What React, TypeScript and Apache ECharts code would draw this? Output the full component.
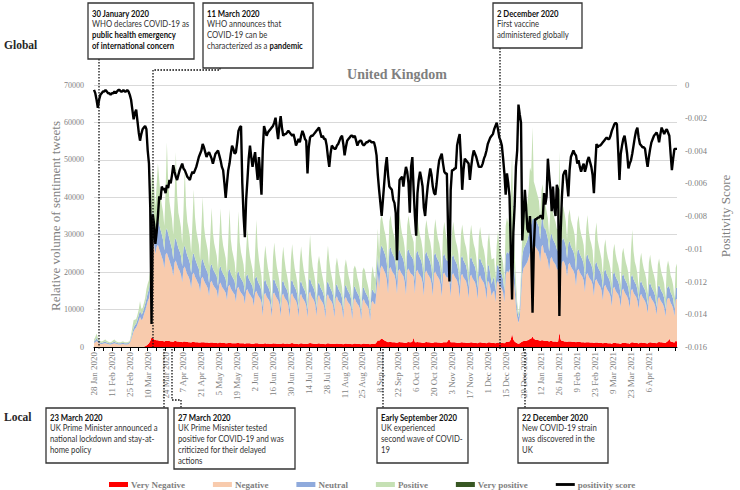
import React, { useEffect, useRef } from "react";
import * as echarts from "echarts";

// ---- data (daily, starting 28 Jan 2020) ----
const START_YEAR = 2020;
const START_MONTH = 0; // January
const START_DAY = 28;
const MONTH_NAMES = ["Jan", "Feb", "Mar", "Apr", "May", "Jun", "Jul", "Aug", "Sep", "Oct", "Nov", "Dec"];

const veryNegative: number[] = [
  0,0,0,0,0,0,0,
  0,0,0,0,0,0,0,
  0,0,0,0,0,0,0,
  0,0,0,0,0,0,0,
  0,0,0,0,0,0,0,
  0,0,0,0,100,200,400,
  700,1000,1600,2600,2400,2000,1900,
  1800,1800,1700,1700,1600,1600,1500,
  1700,1700,1600,1600,1500,1500,1400,
  1600,1600,1500,1500,1400,1400,1300,
  1500,1500,1400,1400,1300,1300,1200,
  1400,1400,1300,1300,1300,1200,1200,
  1300,1300,1300,1200,1200,1200,1100,
  1200,1200,1200,1100,1100,1100,1000,
  1200,1200,1100,1100,1100,1000,1000,
  1100,1100,1100,1000,1000,1000,1000,
  1100,1100,1000,1000,1000,1000,900,
  1000,1000,1000,1000,900,900,900,
  1000,1000,1000,900,900,900,800,
  950,1000,900,950,900,850,800,
  1000,950,950,900,900,850,800,
  950,1000,900,900,950,850,800,
  1000,1050,950,900,900,850,750,
  950,1000,950,900,850,850,800,
  1000,1100,1000,950,900,850,800,
  950,1000,900,900,850,800,750,
  950,1000,950,900,900,850,800,
  900,950,900,850,850,800,750,
  900,950,900,850,850,800,750,
  900,950,900,850,800,800,750,
  900,950,900,850,800,800,750,
  850,850,850,900,1300,1800,1700,
  2000,2300,2100,1800,1600,1500,1300,
  1400,1400,1300,1300,1250,1200,1150,
  1300,1350,1300,1250,1200,1150,1100,
  1300,1350,1300,1250,1500,2500,1300,
  1300,1350,1300,1250,1200,1150,1100,
  1300,1350,1300,1250,1200,1150,1100,
  1300,1300,1250,1200,1200,1150,1100,
  1250,1300,1250,1300,1800,2000,1300,
  1250,1300,1250,1200,1150,1100,1050,
  1250,1300,1200,1200,1150,1100,1050,
  1200,1250,1200,1150,1100,1100,1000,
  1200,1250,1200,1150,1100,1050,1000,
  1200,1250,1200,1150,1100,1050,1000,
  1150,1200,1150,1100,1100,1050,1000,
  1300,1400,1400,1500,2000,3600,2000,
  1500,1200,1000,900,1000,1300,1500,
  1600,1600,1700,1800,1900,2200,2300,
  2800,2200,2000,1900,1900,1800,1700,
  1800,1800,1700,1700,1600,1600,1500,
  1600,1600,1500,1500,1500,1400,1500,
  3900,2000,1600,1600,1500,1500,1400,
  1500,1500,1500,1400,1400,1400,1300,
  1400,1400,1400,1300,1300,1300,1200,
  1300,1300,1300,1200,1200,1200,1100,
  1200,1200,1200,1100,1100,1100,1000,
  1100,1100,1100,1000,1000,1000,900,
  1100,1100,1050,1000,1000,950,900,
  1100,1150,1100,1050,1000,1000,900,
  1200,1250,1200,1100,1100,1050,950,
  1150,1200,1150,1100,1050,1000,950,
  1200,1250,1200,1150,1100,1050,1000,
  1300,1350,1300,1250,1200,1150,1100,
  1400,1600,2200,1500,1400,1300,1200,
  1700,1500,
];

const negative: number[] = [
  1100,1300,1600,1300,1000,900,800,
  900,1000,1000,900,800,700,700,
  800,900,1000,900,800,700,700,
  700,800,800,700,700,700,800,
  1100,2000,3000,4200,4800,5200,6000,
  7000,8000,7200,7500,8500,9500,10500,
  11500,12000,13500,26000,27000,25500,23000,
  25000,25500,24500,23500,22500,21500,19500,
  23000,23500,22500,21500,20500,19500,17500,
  21000,21500,20500,19500,19000,18000,16000,
  19500,20000,19000,18000,17500,16500,14500,
  18000,18500,17500,16800,16000,15500,13500,
  17000,17500,16500,15800,15200,14500,12500,
  16000,16500,15500,15000,14500,14000,12000,
  15500,16000,15000,14500,14000,13500,11500,
  15000,15500,14500,14000,13500,13000,11000,
  14500,15000,14000,13500,13000,12500,10500,
  14000,14500,13500,13000,12500,12000,10000,
  13500,14000,13000,12500,12000,11000,7500,
  13000,13500,12500,12000,11500,10500,7200,
  13200,13600,12700,12100,11600,10600,7400,
  12800,13300,12300,11800,11300,10300,7100,
  12900,13400,12400,11900,11400,10400,7200,
  12700,13200,12200,11700,11200,10200,7000,
  13100,13700,12600,12100,11600,10600,7400,
  12400,12900,11900,11400,10900,10000,6900,
  12600,13100,12100,11600,11100,10200,7000,
  12100,12600,11600,11100,10700,9700,6700,
  12000,12400,11500,11000,10600,9600,6600,
  11700,12100,11200,10700,10300,9400,6500,
  11400,11900,11000,10500,10100,9200,6300,
  11000,11500,10800,10500,14000,18000,14000,
  19000,19500,19000,18500,18000,16500,13000,
  19500,20000,19000,18500,18000,16500,13000,
  19000,19500,18700,18200,17700,16200,12800,
  19200,19600,18800,18300,17800,16300,12900,
  18800,19300,18400,17900,17400,16000,12600,
  18600,19100,18200,17700,17200,15800,12500,
  18400,18900,18000,17500,17000,15600,12300,
  18200,18700,17800,17300,16800,15400,12200,
  18000,18500,17600,17100,16600,15200,12000,
  17800,18300,17400,16900,16400,15000,11900,
  17600,18100,17200,16700,16200,14800,11700,
  17400,17900,17000,16500,16000,14600,11600,
  16500,16000,14500,12500,13500,14000,11000,
  16000,16500,15500,15000,14500,13500,11000,
  18000,19000,18500,19000,19500,19000,16500,
  14000,10000,7000,5500,7000,12000,18000,
  19500,20000,20500,21000,22000,23000,23500,
  24000,24500,25000,24500,24000,23500,21000,
  25000,25500,23500,23500,22500,21500,19000,
  22000,22500,21500,21000,20500,19500,19000,
  20000,18000,21000,21500,21000,20000,17500,
  20500,21000,20000,19500,19000,18000,15000,
  19000,19500,18500,18000,17500,16500,13500,
  18000,18500,17500,17000,16500,15500,12500,
  16500,17000,16000,15500,15000,14000,11500,
  15000,15500,14500,14000,13500,12500,10000,
  14500,15000,14000,13500,13000,12000,9800,
  14000,14500,13500,13000,12500,11500,9500,
  13800,14300,13300,12800,12300,11300,9200,
  12500,13000,12200,11700,11200,10300,8000,
  12000,12500,11700,11200,10700,9800,7500,
  11500,12000,11200,10700,10200,9300,7000,
  11000,11500,10800,10300,9800,9000,7000,
  11000,11300,
];

const neutral: number[] = [
  400,500,800,500,400,300,300,
  300,400,400,300,300,300,300,
  300,400,400,300,300,300,300,
  300,300,300,300,300,300,300,
  300,500,800,1000,1000,1100,1300,
  1500,1800,1500,1600,1700,1800,2000,
  2200,2400,2700,6000,7000,6500,5500,
  6500,6800,6600,6200,6000,5500,4800,
  6200,6500,6200,5800,5500,5200,4500,
  5800,6000,5700,5400,5200,5000,4300,
  5400,5600,5300,5000,4800,4600,4000,
  5000,5200,4900,4600,4400,4200,3700,
  4700,4800,4600,4400,4200,4000,3500,
  4400,4500,4300,4100,4000,3800,3300,
  4300,4400,4200,4000,3900,3700,3200,
  4200,4300,4100,3900,3800,3600,3100,
  4100,4200,4000,3800,3700,3500,3000,
  3900,4000,3800,3600,3500,3300,2800,
  3800,4000,3700,3500,3300,3100,2300,
  3500,3600,3400,3200,3000,2800,2100,
  3550,3650,3450,3250,3050,2850,2150,
  3450,3550,3350,3150,2950,2750,2100,
  3500,3600,3400,3200,3000,2800,2100,
  3400,3500,3300,3100,2900,2700,2050,
  3550,3700,3450,3250,3050,2850,2150,
  3350,3450,3250,3050,2850,2650,2000,
  3400,3500,3300,3100,2900,2700,2050,
  3250,3350,3150,2950,2800,2600,1950,
  3200,3300,3100,2900,2750,2550,1900,
  3150,3250,3050,2850,2700,2500,1850,
  3100,3200,3000,2800,2650,2450,1800,
  3000,3100,2900,2800,3800,4800,4000,
  5200,5400,5200,5000,4800,4400,3500,
  5200,5300,5000,4800,4600,4300,3500,
  5000,5200,4900,4700,4500,4200,3400,
  5050,5200,4950,4750,4550,4250,3450,
  4950,5100,4850,4650,4450,4150,3350,
  4900,5050,4800,4600,4400,4100,3300,
  4850,5000,4750,4550,4350,4050,3250,
  4800,4950,4700,4500,4300,4000,3200,
  4750,4900,4650,4450,4250,3950,3150,
  4700,4850,4600,4400,4200,3900,3100,
  4650,4800,4550,4350,4150,3850,3050,
  4600,4750,4500,4300,4100,3800,3000,
  4500,4300,3800,3200,3500,3700,2900,
  4300,4400,4200,4000,3800,3500,2900,
  5000,5200,5000,5200,5300,5200,4500,
  4000,3000,2000,1500,1800,3200,4800,
  5200,5300,5500,5800,6200,6800,7000,
  7500,7500,7500,7300,7000,6800,6000,
  7000,7200,6500,6500,6200,5800,5000,
  6000,6200,5800,5600,5400,5200,5000,
  5500,5000,5800,6000,5800,5500,4800,
  5600,5800,5500,5300,5100,4800,4200,
  5200,5300,5000,4800,4600,4400,3700,
  4900,5000,4700,4500,4300,4100,3400,
  4500,4600,4300,4100,4000,3800,3100,
  4100,4200,4000,3800,3600,3400,2800,
  3900,4000,3800,3600,3500,3300,2700,
  3800,3900,3700,3500,3400,3200,2600,
  3700,3800,3600,3400,3300,3100,2500,
  3400,3500,3300,3100,3000,2800,2200,
  3300,3400,3200,3000,2900,2700,2100,
  3200,3300,3100,2900,2800,2600,2000,
  3100,3200,3000,2800,2700,2500,2000,
  3000,3000,
];

const positive: number[] = [
  500,800,1200,700,500,400,400,
  400,500,600,400,400,300,300,
  400,500,600,400,300,300,300,
  300,400,400,300,300,300,300,
  300,800,1500,2000,1500,1200,1300,
  1500,2500,1500,1300,1400,1500,2500,
  2500,2500,3000,10000,11000,9000,7000,
  10000,15000,12000,9000,8000,7500,6500,
  11000,23000,14000,10000,9000,8000,6500,
  11000,23000,13000,9500,8500,7500,6000,
  10000,21000,12000,9000,8000,7000,5500,
  9000,17000,11000,8500,7500,6500,5000,
  8500,16500,10000,8000,7000,6000,4500,
  8000,15000,9500,7500,6500,5500,4200,
  8000,15500,9500,7500,6500,5500,4000,
  8000,16000,9000,7000,6000,5000,3800,
  7500,16000,9000,7000,6000,5000,3500,
  7000,12000,8500,6500,5500,4500,3200,
  7000,15000,9000,6500,5000,4000,2800,
  6000,9000,7000,5000,4000,3200,2500,
  6200,9700,7200,5100,4100,3300,2600,
  5900,9000,6900,4900,3900,3100,2500,
  6000,9500,7000,5000,4000,3200,2500,
  5900,9200,6800,4900,3900,3100,2400,
  6300,11500,7500,5200,4200,3300,2600,
  5600,7000,6200,4600,3700,3000,2300,
  5900,9500,6800,4900,3900,3100,2400,
  5400,7000,6100,4500,3600,2900,2300,
  5300,6800,6000,4400,3500,2800,2200,
  5100,5500,5700,4200,3400,2700,2100,
  5000,5200,5500,4100,3300,2700,2100,
  4500,6200,4500,4000,5000,7000,5500,
  7500,8000,7000,6000,5500,5000,4000,
  7500,8500,7000,6000,5500,5000,4000,
  7000,9500,7500,6000,5500,5000,4000,
  7000,9000,7500,6000,5500,5000,4000,
  6800,9200,7300,5900,5400,4900,3900,
  6700,8500,7200,5800,5300,4800,3900,
  6600,9000,7100,5700,5200,4700,3800,
  6500,8500,7000,5600,5100,4600,3800,
  6400,8800,6900,5500,5000,4500,3700,
  6300,8300,6800,5400,4900,4400,3700,
  6200,8500,6700,5300,4800,4300,3600,
  6100,8200,6600,5200,4700,4200,3600,
  6000,9000,7000,6500,5500,5000,3800,
  5800,9000,6500,5200,4800,4300,3500,
  8000,9000,8000,10000,14000,24000,10000,
  6000,3500,2000,1200,1500,3500,6500,
  8000,9000,9500,10000,12000,16000,14000,
  24500,10000,8500,8000,7500,7000,6000,
  8000,9000,7000,6500,6000,5500,4500,
  7500,8500,7000,6500,6000,5500,6000,
  23000,8000,8000,8500,7500,6500,5000,
  7500,8500,7000,6500,6000,5500,4500,
  7500,9000,7000,6000,5500,5000,4000,
  7500,10500,7500,6000,5500,5000,3800,
  8000,10500,7000,6000,5000,4500,3500,
  6500,8000,6000,5000,4500,4000,3200,
  6000,7500,6000,5000,4500,4000,3100,
  6000,7000,6000,5000,4500,4000,3000,
  7000,12000,7500,5500,4800,4200,3000,
  6000,7500,6000,5000,4500,4000,3000,
  6000,7500,6000,5000,4500,4000,3000,
  6000,7000,5800,4800,4300,3800,2900,
  5800,6800,5600,4600,4200,3700,2800,
  5500,6500,
];

const positivityScore: number[] = [
  -0.0003,-0.0005,-0.0009,-0.0014,-0.0009,-0.0006,-0.0005,
  -0.0004,-0.0004,-0.0003,-0.0004,-0.0005,-0.0005,-0.0006,
  -0.0005,-0.0005,-0.0004,-0.0005,-0.0004,-0.0003,-0.0003,
  -0.0004,-0.0004,-0.0003,-0.0004,-0.0004,-0.0003,-0.0004,
  -0.0006,-0.0009,-0.0015,-0.0021,-0.0017,-0.0015,-0.0022,
  -0.0029,-0.0034,-0.0030,-0.0027,-0.0026,-0.0025,-0.0027,
  -0.0040,-0.0048,-0.0075,-0.0146,-0.0079,-0.0085,-0.0097,
  -0.0090,-0.0080,-0.0068,-0.0070,-0.0062,-0.0064,-0.0063,
  -0.0066,-0.0061,-0.0063,-0.0058,-0.0060,-0.0055,-0.0049,
  -0.0053,-0.0056,-0.0058,-0.0055,-0.0052,-0.0050,-0.0048,
  -0.0051,-0.0052,-0.0054,-0.0056,-0.0057,-0.0058,-0.0055,
  -0.0053,-0.0054,-0.0052,-0.0050,-0.0047,-0.0044,-0.0042,
  -0.0040,-0.0036,-0.0038,-0.0041,-0.0044,-0.0042,-0.0041,
  -0.0043,-0.0045,-0.0048,-0.0045,-0.0042,-0.0041,-0.0040,
  -0.0043,-0.0046,-0.0050,-0.0052,-0.0060,-0.0069,-0.0060,
  -0.0052,-0.0048,-0.0042,-0.0037,-0.0039,-0.0042,-0.0041,
  -0.0035,-0.0028,-0.0026,-0.0025,-0.0060,-0.0080,-0.0093,
  -0.0070,-0.0058,-0.0045,-0.0037,-0.0044,-0.0050,-0.0045,
  -0.0041,-0.0050,-0.0058,-0.0044,-0.0055,-0.0067,-0.0040,
  -0.0025,-0.0028,-0.0031,-0.0029,-0.0028,-0.0027,-0.0026,
  -0.0025,-0.0023,-0.0020,-0.0027,-0.0033,-0.0025,-0.0019,
  -0.0026,-0.0031,-0.0030,-0.0030,-0.0029,-0.0028,-0.0029,
  -0.0030,-0.0031,-0.0030,-0.0033,-0.0037,-0.0035,-0.0033,
  -0.0035,-0.0031,-0.0028,-0.0030,-0.0033,-0.0034,-0.0054,
  -0.0038,-0.0032,-0.0031,-0.0031,-0.0030,-0.0029,-0.0028,
  -0.0027,-0.0026,-0.0029,-0.0032,-0.0031,-0.0033,-0.0033,
  -0.0037,-0.0044,-0.0050,-0.0042,-0.0037,-0.0038,-0.0039,
  -0.0039,-0.0037,-0.0036,-0.0034,-0.0032,-0.0031,-0.0036,
  -0.0043,-0.0038,-0.0034,-0.0033,-0.0032,-0.0031,-0.0031,
  -0.0032,-0.0031,-0.0034,-0.0037,-0.0035,-0.0034,-0.0034,
  -0.0036,-0.0037,-0.0036,-0.0035,-0.0035,-0.0034,-0.0034,
  -0.0035,-0.0035,-0.0035,-0.0038,-0.0043,-0.0055,-0.0064,
  -0.0072,-0.0080,-0.0070,-0.0060,-0.0050,-0.0044,-0.0055,
  -0.0062,-0.0063,-0.0064,-0.0070,-0.0072,-0.0078,-0.0107,
  -0.0075,-0.0058,-0.0057,-0.0056,-0.0062,-0.0055,-0.0050,
  -0.0053,-0.0060,-0.0078,-0.0050,-0.0044,-0.0064,-0.0080,
  -0.0092,-0.0066,-0.0058,-0.0053,-0.0057,-0.0062,-0.0075,
  -0.0080,-0.0070,-0.0062,-0.0056,-0.0051,-0.0055,-0.0062,
  -0.0066,-0.0067,-0.0060,-0.0052,-0.0046,-0.0044,-0.0042,
  -0.0048,-0.0053,-0.0054,-0.0054,-0.0090,-0.0120,-0.0064,
  -0.0052,-0.0052,-0.0051,-0.0051,-0.0037,-0.0033,-0.0030,
  -0.0045,-0.0064,-0.0052,-0.0045,-0.0046,-0.0047,-0.0048,
  -0.0058,-0.0050,-0.0044,-0.0040,-0.0042,-0.0044,-0.0047,
  -0.0050,-0.0050,-0.0050,-0.0048,-0.0045,-0.0043,-0.0040,
  -0.0036,-0.0034,-0.0032,-0.0031,-0.0030,-0.0027,-0.0025,
  -0.0023,-0.0027,-0.0032,-0.0034,-0.0037,-0.0045,-0.0054,
  -0.0067,-0.0054,-0.0060,-0.0068,-0.0100,-0.0131,-0.0090,
  -0.0074,-0.0050,-0.0040,-0.0012,-0.0018,-0.0023,-0.0095,
  -0.0080,-0.0064,-0.0075,-0.0088,-0.0090,-0.0080,-0.0100,
  -0.0139,-0.0100,-0.0082,-0.0082,-0.0081,-0.0081,-0.0080,
  -0.0080,-0.0082,-0.0066,-0.0073,-0.0068,-0.0045,-0.0055,
  -0.0064,-0.0077,-0.0062,-0.0075,-0.0080,-0.0061,-0.0064,
  -0.0141,-0.0090,-0.0068,-0.0055,-0.0053,-0.0052,-0.0060,
  -0.0068,-0.0052,-0.0044,-0.0042,-0.0040,-0.0042,-0.0043,
  -0.0048,-0.0046,-0.0050,-0.0053,-0.0050,-0.0048,-0.0053,
  -0.0050,-0.0046,-0.0044,-0.0047,-0.0050,-0.0055,-0.0066,
  -0.0050,-0.0036,-0.0038,-0.0037,-0.0037,-0.0036,-0.0035,
  -0.0034,-0.0033,-0.0032,-0.0033,-0.0033,-0.0031,-0.0028,
  -0.0026,-0.0024,-0.0023,-0.0024,-0.0040,-0.0058,-0.0042,
  -0.0037,-0.0033,-0.0031,-0.0036,-0.0042,-0.0051,-0.0048,
  -0.0046,-0.0042,-0.0037,-0.0032,-0.0028,-0.0026,-0.0032,
  -0.0036,-0.0037,-0.0038,-0.0038,-0.0039,-0.0045,-0.0050,
  -0.0044,-0.0039,-0.0035,-0.0033,-0.0031,-0.0030,-0.0029,
  -0.0031,-0.0035,-0.0030,-0.0026,-0.0028,-0.0030,-0.0028,
  -0.0027,-0.0029,-0.0031,-0.0042,-0.0052,-0.0045,-0.0039,
  -0.0039,-0.0039,
];

const veryPositive: number[] = [];

const leftTicks = { min: 0, max: 70000, interval: 10000 };
const rightTicks = { min: -0.016, max: 0, interval: 0.002 };

const legendNames = ["Very Negative", "Negative", "Neutral", "Positive", "Very positive", "positivity score"];

// Category labels: one per day from the start date
const dateCategories: string[] = veryNegative.map((_, i) => {
  const d = new Date(Date.UTC(START_YEAR, START_MONTH, START_DAY + i));
  return `${d.getUTCDate()} ${MONTH_NAMES[d.getUTCMonth()]} ${d.getUTCFullYear()}`;
});

const SERIF = '"Liberation Serif", "Times New Roman", serif';
const SANS = 'Lato, "Open Sans", sans-serif';
const GRAY = "#7f7f7f";

function areaSeries(name: string, data: number[], color: string) {
  return {
    name,
    type: "line",
    stack: "sentiment",
    data,
    symbol: "none",
    showSymbol: false,
    lineStyle: { width: 0, color },
    itemStyle: { color },
    areaStyle: { color, opacity: 1 },
    emphasis: { disabled: true },
    z: 2,
  };
}

const ANN_FONT = `9px ${SANS}`;
const ANN_BOLD = `bold 9px ${SANS}`;
const LH = 10.8;
const ANN_SCALE_X = 0.86;

function box(x: number, y: number, w: number, h: number) {
  return {
    type: "rect",
    z: 100,
    shape: { x, y, width: w, height: h },
    style: { fill: "#ffffff", stroke: "#333333", lineWidth: 1.3 },
  };
}

function annText(x: number, y: number, text: string) {
  return {
    type: "text",
    z: 101,
    x,
    y,
    scaleX: ANN_SCALE_X,
    style: {
      text,
      font: ANN_FONT,
      fill: "#333333",
      lineHeight: LH,
      align: "left",
      verticalAlign: "top",
      rich: {
        b: { font: ANN_BOLD, fill: "#111111", lineHeight: LH },
      },
    },
  };
}

function dotted(points: number[][]) {
  return {
    type: "polyline",
    z: 99,
    shape: { points },
    style: { stroke: "#111111", lineWidth: 1.3, lineDash: [1.6, 1.4], fill: null },
  };
}

const graphics = [
  { type: "text", x: 4, y: 45, style: { text: "Global", font: `bold 11.5px ${SERIF}`, fill: "#262626", verticalAlign: "middle" } },
  { type: "text", x: 4, y: 417, style: { text: "Local", font: `bold 11.5px ${SERIF}`, fill: "#262626", verticalAlign: "middle" } },
  { type: "text", x: 397, y: 74, style: { text: "United Kingdom", font: `bold 14px ${SERIF}`, fill: GRAY, align: "center", verticalAlign: "middle" } },

  dotted([[99, 59], [99, 349]]),
  dotted([[220, 68], [220, 70], [153, 70], [153, 349]]),
  dotted([[500, 48], [500, 349]]),
  dotted([[164, 349], [164, 408]]),
  dotted([[172, 349], [172, 400], [181, 400], [181, 408]]),
  dotted([[383, 349], [383, 408]]),
  dotted([[525, 349], [525, 408]]),

  box(88, 3, 106, 56),
  annText(92, 8, "{b|30 January 2020}\nWHO declares COVID-19 as\n{b|public health emergency}\n{b|of international concern}"),
  box(203, 3, 110, 65),
  annText(207, 8, "{b|11 March 2020}\nWHO announces that\nCOVID-19 can be\ncharacterized as a {b|pandemic}"),
  box(493, 3, 89, 45),
  annText(497, 8, "{b|2 December 2020}\nFirst vaccine\nadministered globally"),

  box(46, 408, 122, 55),
  annText(50, 412, "{b|23 March 2020}\nUK Prime Minister announced a\nnational lockdown and stay-at-\nhome policy"),
  box(174, 408, 121, 61),
  annText(178, 412, "{b|27 March 2020}\nUK Prime Misnister tested\npositive for COVID-19 and was\ncriticized for their delayed\nactions"),
  box(377, 408, 91, 55),
  annText(381, 412, "{b|Early September 2020}\nUK experienced\nsecond wave of COVID-\n19"),
  box(518, 408, 90, 55),
  annText(522, 412, "{b|22 December 2020}\nNew COVID-19 strain\nwas discovered in the\nUK"),
];

const option = {
  animation: false,
  backgroundColor: "#ffffff",
  grid: { left: 94, right: 48, top: 85, bottom: 143, containLabel: false },
  legend: {
    left: 104,
    top: 475,
    itemWidth: 19,
    itemHeight: 5,
    itemGap: 28,
    selectedMode: false,
    textStyle: { fontFamily: SERIF, fontSize: 9, fontWeight: "bold", color: GRAY, padding: [0, 0, 0, -2] },
    data: [
      { name: legendNames[0], icon: "rect" },
      { name: legendNames[1], icon: "rect" },
      { name: legendNames[2], icon: "rect" },
      { name: legendNames[3], icon: "rect" },
      { name: legendNames[4], icon: "rect" },
      { name: legendNames[5], icon: "path://M0 0H20V3H0Z" },
    ],
  },
  xAxis: {
    type: "category",
    data: dateCategories,
    boundaryGap: false,
    axisLine: { lineStyle: { color: "#000000", width: 1 } },
    axisTick: { interval: 6, length: 4, lineStyle: { color: "#000000" } },
    axisLabel: { interval: 13, rotate: 90, fontFamily: SERIF, fontSize: 9, color: GRAY, margin: 5, showMaxLabel: false },
    splitLine: { show: false },
  },
  yAxis: [
    {
      type: "value",
      min: leftTicks.min,
      max: leftTicks.max,
      interval: leftTicks.interval,
      name: "Relative volume of sentiment tweets",
      nameLocation: "middle",
      nameRotate: 90,
      nameGap: 32,
      nameMoveOverlap: false,
      nameTextStyle: { fontFamily: SERIF, fontSize: 13, color: GRAY },
      axisLine: { show: false },
      axisTick: { show: false },
      axisLabel: { fontFamily: SERIF, fontSize: 8, color: GRAY, margin: 10, formatter: (v: number) => String(v) },
      splitLine: { lineStyle: { color: "#d9d9d9", width: 1 } },
    },
    {
      type: "value",
      position: "right",
      min: rightTicks.min,
      max: rightTicks.max,
      interval: rightTicks.interval,
      name: "Positivity Score",
      nameLocation: "middle",
      nameRotate: 90,
      nameGap: 42,
      nameMoveOverlap: false,
      nameTextStyle: { fontFamily: SERIF, fontSize: 13, color: GRAY },
      axisLine: { show: false },
      axisTick: { show: false },
      axisLabel: {
        fontFamily: SERIF,
        fontSize: 8.5,
        color: GRAY,
        margin: 8,
        formatter: (v: number) => (Math.abs(v) < 1e-9 ? "0" : String(Number(v.toFixed(3)))),
      },
      splitLine: { show: false },
    },
  ],
  series: [
    areaSeries(legendNames[0], veryNegative, "#ff0000"),
    areaSeries(legendNames[1], negative, "#f8cbad"),
    areaSeries(legendNames[2], neutral, "#8faadc"),
    areaSeries(legendNames[3], positive, "#c5e0b4"),
    areaSeries(legendNames[4], veryPositive, "#385723"),
    {
      name: legendNames[5],
      type: "line",
      yAxisIndex: 1,
      data: positivityScore,
      symbol: "none",
      showSymbol: false,
      lineStyle: { color: "#000000", width: 2.4 },
      itemStyle: { color: "#000000" },
      emphasis: { disabled: true },
      z: 5,
    },
  ],
  graphic: graphics,
};

export default function App() {
  const ref = useRef<HTMLDivElement>(null);
  useEffect(() => {
    document.body.style.margin = "0";
    if (!ref.current) return;
    const chart = echarts.init(ref.current, undefined, { renderer: "svg" });
    chart.setOption(option as any);
    return () => chart.dispose();
  }, []);
  return <div ref={ref} style={{ width: 740, height: 490 }} />;
}
